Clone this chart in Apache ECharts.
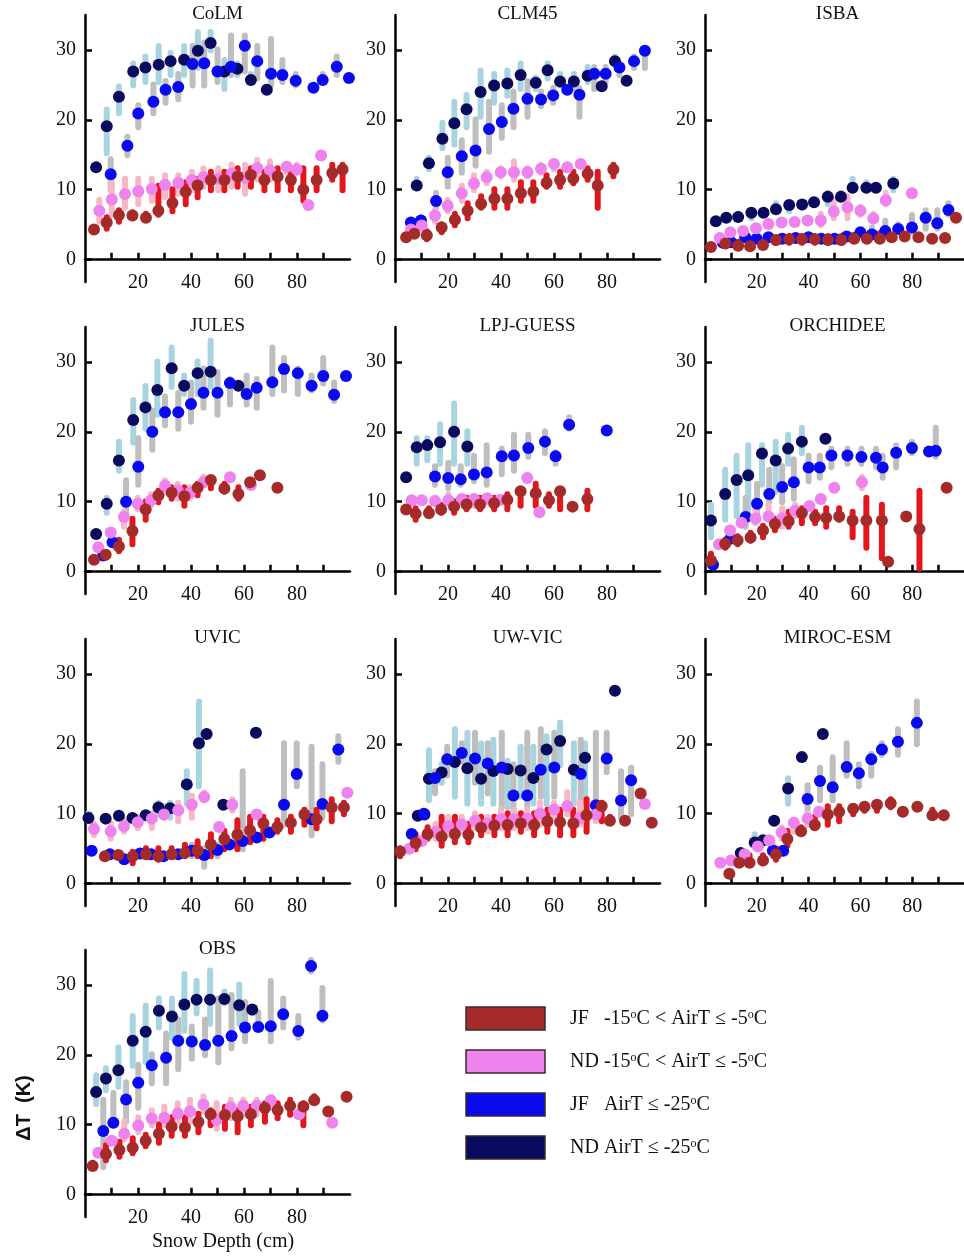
<!DOCTYPE html>
<html>
<head>
<meta charset="utf-8">
<script src="https://cdn.jsdelivr.net/npm/echarts@6/dist/echarts.min.js"></script>
<style>
  html, body { margin: 0; padding: 0; background: #fff; }
  #main { width: 964px; height: 1256px; }
</style>
</head>
<body>
<div id="main"></div>
<script>
// ---- data: [snow depth, dT, low, high] (low/high only when a bar is visible) ----
var panelNames = ['CoLM', 'CLM45', 'ISBA', 'JULES', 'LPJ-GUESS', 'ORCHIDEE', 'UVIC', 'UW-VIC', 'MIROC-ESM', 'OBS'];
var yTicks = [0, 10, 20, 30];
var xTicks = [10, 20, 30, 40, 50, 60, 70, 80, 90];
var xLabels = [20, 40, 60, 80];

var colmJfWarm = [[3.4,4.3],[8.2,5.3,4,6.5],[12.8,6.4,5,7.5],[17.9,6.3,5.5,7.2],[23,6.0,5.5,7],[27.7,7.0,6,11],[33,8.1,6.5,10.5],[38,9.7,7.5,11.5],[42.5,10.6,8.5,12],[47.5,11.4,9.5,13],[52.6,11.4,9.5,13],[57.6,11.9,10,13.5],[62.6,12.1,10,13.5],[67.7,11.4,9.5,13],[72.7,11.9,9.5,13.5],[77.7,11.4,9.5,13.5],[82.4,10,8,13.5],[87.4,11.4,9.5,13.5],[93.3,12.4,11,14],[97.2,12.9,9.5,14]];
var colmNdWarm = [[5.4,7.0,5,9],[10.1,8.6,6,12],[15.1,9.4,7,12],[20.1,9.8,7.5,12],[25.2,10.1,8,12],[30.2,10.7,8.5,12.5],[35.2,11,9,12.5],[40.3,11.4,9.5,13],[44.7,11.8,10,13.5],[50.3,11.6,9.5,13.5],[55.3,12.3,10,14],[60.4,11.7,9,14],[65,13.1,11,14.7],[69.8,12.8,11,14.5],[76.1,13.3,12,14],[79.9,12.9,12,14],[84.3,7.8],[89.1,14.9]];
var colmJfCold = [[9.7,12.2,9.5,14.8],[16,16.3,14.5,18],[20.1,20.9,18.5,22.5],[25.8,22.6,20.5,25.5],[30.4,24.3,22,26],[35.2,24.7,22.5,27],[40.6,28,24.5,31],[45,28.1,24.5,31.5],[50,26.9,25,30.5],[55.1,27.6,26,32.5],[60.3,30.6,26.5,32.5],[65,28.4,25.5,31],[70.2,26.6,24.5,32],[74.5,26.4,25,29],[79.5,25.6,24.5,27],[86.2,24.6,24,25.5],[89.7,25.7,25,27],[95,27.6,26,29.5],[99.6,26,25.5,26.5]];
var colmNdCold = [[4.2,13.2],[8.2,19.1,14.8,21.9],[12.8,23.3,20.5,25.2],[18.2,26.9,24.5,28.5],[22.8,27.5,25,29.5],[27.8,27.9,25,31],[32.3,28.4,26,30],[37.4,28.6,26,31],[42.6,29.9,27,33],[47.4,31,29.5,33],[52.6,26.9,24,29],[57.5,27.3,26,28.5],[62.6,25.7,25,27],[68.6,24.3]];

var clmJfWarm = [[4.2,3.2],[7.3,3.7],[12,3.5,2.5,4.5],[17.6,4.6,3.5,5.5],[22.6,5.7,4.5,7],[27.4,7.0,5.5,8.5],[32.5,8,7,9.5],[37.5,8.7,7,10.5],[42.4,8.7,7,10.5],[47.5,9.5,8,11.5],[52.2,9.7,8,11.5],[57.2,11,10,12.5],[62.3,11.4,10,13],[67.3,11.6,10.5,13],[72.7,12.3,11,13.5],[76.5,10.6,7,13],[82.4,12.9,11.5,14]];
var clmNdWarm = [[6,4.3,3.5,5.5],[10.1,4.9,4,5.5],[15.1,6.3,5,7.5],[19.9,7.7,6.5,9],[25.2,9.5,8,11],[29.8,10.9,9.5,12.5],[34.6,11.8,10.5,13],[39.9,12.5,11.5,13.5],[44.9,12.5,11,14.5],[50,12.5,11.5,13.5],[55.1,13,12,14],[60,13.7,12.5,14.5],[65,13.2,12.5,14],[70.1,13.7]];
var clmJfCold = [[6,5.3,4.5,6],[9.8,5.6,4.5,6.5],[15.5,8.4,7,10],[19.9,12.5,10,15],[25.2,14.8,12,17.5],[30.4,15.6,13,20.5],[35.5,18.7,15,23],[40.3,19.7,17,22.5],[44.7,21.6,18.5,24.5],[50,23,20,26],[55.1,22.9,21.5,24.5],[59.7,23.5,22,25],[65,24.3,23.5,25],[69.6,23.6,20,25],[75.2,26.6,24,28],[79.5,26.6,25,28],[84.7,27.5,26,28.5],[90.2,28.4,27,29.5],[94.3,29.9,27,30.5]];
var clmNdCold = [[8.2,10.6,10,12],[12.8,13.8,12.5,15],[17.9,17.3,15.5,20],[22.4,19.5,16,23],[27,21.5,18.5,24],[32.3,24,20,27.5],[37.4,24.9,22,27],[42.4,25.2,23,27.5],[47.4,26.4,24,28.5],[53.1,25.3,24,26.5],[57.6,27.1,25.5,28.5],[62.3,25.5,24.5,27],[67.5,25.5,24,27],[72.7,26.3,25,28],[78,24.8],[83,28.4,27.5,29.5],[87.4,25.6,25,26.5]];

var isbaJfWarm = [[2.3,1.8],[7.9,2.3,1.5,3],[12.8,2.0,1.5,3],[17.4,1.9,1.5,3],[22.4,2.1,1.5,3],[27.4,2.8,2,3.5],[32.5,2.9,2,3.8],[37.4,2.9,2,3.8],[42.4,2.9,2,3.8],[47.5,2.8,2,3.8],[52.6,2.8,2,3.8],[57.6,3.0,2.2,4],[62.5,3.0,2.2,4],[67.5,3.0,2.2,4.2],[72.1,3.2],[77.1,3.3],[82.4,3.2],[87.7,3.0],[92.7,3.1],[96.9,6.0]];
var isbaNdWarm = [[5.7,3.1],[9.8,3.9],[14.7,4.1],[19.7,4.5],[24.5,5.1],[29.6,5.3],[34.6,5.4],[39.6,5.6],[44.7,5.6,4.5,7],[49.7,6.9,5.5,9],[55,7.5,5.5,9.5],[60,7.0,6,8],[65,5.9,5,7],[69.8,8.5,7.5,10],[79.9,9.5]];
var isbaJfCold = [[6.9,2.4],[10.1,2.5],[15.5,3.2],[19.9,3.0],[24.5,3.2],[29.8,3.0],[35,3.1],[40,3.2],[44.9,3.0],[50,3.0],[54.7,3.3],[60,3.9],[64.5,3.6,3,5],[69.6,4.1,3,6],[74.6,4.4,3.5,5.5],[79.9,4.6,3.5,6.8],[85.2,6.0,4,7.5],[89.7,5.2,4,7.5],[94,7.1,6,8.5]];
var isbaNdCold = [[4.2,5.5],[8.2,6.0],[12.8,6.1,5.5,7],[17.9,6.7,5.5,7.5],[22.6,6.7,6,7.3],[27.4,7.2,6.5,8.5],[32.5,7.8,6.5,8.5],[37.5,7.9,7,8.5],[42.1,8.2,7.5,9],[47.4,9,7.5,10],[52.5,9,8.5,10],[57,10.3,9.5,12],[62.3,10.3,9.5,11.5],[66,10.3],[72.7,10.9,9.5,12]];

var julesJfWarm = [[3.4,1.7],[7.8,2.4],[12.8,3.6,2.5,5],[17.9,5.8,3.5,8],[22.9,8.9,7,10.5],[27.7,10.9,9.5,12],[32.7,11.3,10,12.5],[37.5,10.8,9,12.5],[42.5,12,10.5,13],[47.5,13.1,11.5,13.5],[52.6,11.9,11,13],[57.9,11.1,10,12.5],[62.3,12.8,12,13.5],[66,13.8,13,14.5],[72.6,12]];
var julesNdWarm = [[5,3.5],[9.7,5.6],[14.7,7.8,6,9],[19.9,9.7,8.5,11],[24.9,10.2,9,11.5],[30.2,12.3,11,13.5],[35,11.6,10,13],[39.6,11.3,10,12.5],[44.7,12.8,12,14],[54.7,13.5],[62.6,12.4]];
var julesJfCold = [[6.9,2.3],[10.4,4.2],[15.5,10,8,13.5],[20.1,15,12,19.5],[25.4,20,17,23.5],[30.2,22.8,20.5,25.5],[35.2,22.8,20,26],[40,24,21,27.5],[44.7,25.6,23,29.5],[50,25.6,22,29],[54.7,27,23.5,28],[61,25.4,23.5,28.5],[64.8,26.3,23,28],[70.7,27.1,25,32.5],[75.1,29,25.5,31],[80.3,28.4,25,29.5],[85.5,26.6,25.5,28.5],[89.9,28,26.5,31],[94,25.3,24,27.5],[98.5,28]];
var julesNdCold = [[4.2,5.4],[8.2,9.7,8,11],[12.8,15.9,14,19],[18.2,21.7,18,25],[22.8,23.5,20,27],[27.3,26,22,30.5],[32.7,29.1,26,32.5],[37.4,26.6,25,28.5],[42.5,28.4,25,30.5],[47.4,28.6,26,33.5],[57.9,26.6]];

var lpjJfWarm = [[4.2,8.9],[7.8,8.3,7,9.5],[12.8,8.4,7.5,9.5],[17.4,8.9,8,10],[22.3,9.3,8,10.5],[27,9.6,8.5,11],[32.1,9.6,8.5,11],[37.4,9.8,8.5,11],[42.4,10.3,8.5,11.5],[47.4,11.5,9,12],[53.1,11.2,9,13],[58.1,10.2,9,11.5],[62.3,11.5,8.5,12],[67,9.3],[72.6,10.4,8.5,12]];
var lpjNdWarm = [[6.3,10.2,9.5,11],[10.1,10.2,9.5,11],[15.1,10.1,9.5,11],[20.1,10.2,9.5,11.5],[25.2,10.4,9.5,11],[29.8,10.4,9,11],[34.8,10.5,9.5,11],[39.9,10.3,9.5,11],[49.9,13.4],[54.5,8.5]];
var lpjJfCold = [[15.1,13.6,12,15.5],[20.1,13.4,11.5,16],[24.8,13.2,12,15.5],[29.8,13.9,12.5,17],[34.6,14.2,12,18.5],[40.3,16.5,13.5,18],[44.9,16.6,14,20],[50.3,17.7,16,20],[56.6,18.6,16.5,20.5],[60.6,16.5,15,17.5],[65.7,21,20,22.5],[79.9,20.2]];
var lpjNdCold = [[4.2,13.5],[8.2,17.8,15,19.5],[12.2,18.1,15.5,19.5],[17,18.5,15,21.5],[22.3,20,15,24.5],[27.3,17.9,15,20.5]];

var orcJfWarm = [[2.3,1.6,1.5,3],[7.8,4.0,3,5],[12.6,4.5,3.5,5.5],[17.6,4.9,4,6],[22.4,5.9,4.5,7],[27,6.8,5.5,8],[32.3,7.2,6,9],[37.4,8.4,6.5,9.5],[42.5,7.8,6.5,9],[46.8,7.7,6,9.5],[51.8,7.9,7,9.5],[57,7.3,4.5,9],[62.3,7.3,3,11],[68.3,7.3,1.5,10],[70.7,1.4],[77.7,7.9],[82.8,6.1,0,12],[93.3,12]];
var orcNdWarm = [[5.4,3.9],[9.7,5.9],[14.1,7],[19.5,7.6,6.5,10],[24.5,7.9,7,10],[29.8,7.6,6,9.5],[34.8,8.7,7.5,10],[40.3,9.4],[44.7,10.4],[49.9,12.0],[60.6,12.8,11.5,14]];
var orcJfCold = [[3.1,1.0],[9.8,4.7],[15.7,7.8,6,11],[20.1,9.7,7,13],[24.8,11.1,9.5,15],[29.8,12.1,9.5,15.5],[34.3,12.8,10,16.5],[40,14.9,12.5,17],[44.3,14.9,13,17],[48.8,16.6,14.5,18],[55,16.6,15,18],[60.4,16.4,15,18],[66,16.3,14.5,18],[68.6,14.9,13,17],[73.8,17,14.5,18.5],[79.9,17.7,16.5,19],[86.5,17.2],[89.1,17.3,16,21]];
var orcNdCold = [[2.3,7.3,4.5,10],[7.8,11.1,7,15],[12.2,13.1,7.5,17],[16.7,13.8,8,18.5],[22,16.9,12,18.5],[27.3,15.9,11,19],[32.1,17.6,15,20],[37.4,18.6,16.5,21],[46.5,19]];

var uvicJfWarm = [[7.5,3.9],[12.6,4.1],[18,3.9,2.5,5],[23,4.2,3.5,5.5],[27.7,3.9,3,5.5],[32.7,4.2,3.5,5.5],[37.7,4.4,3.5,6],[42.5,4.7,3.5,6.5],[47.5,5.6,3.5,7.5],[52.6,6.4,4.5,8],[57.5,7.0,4.5,9.5],[62.3,7.6,5.5,10],[67.3,8.6,6,10],[72.6,8.1,7,9.5],[77.7,8.7,7,10],[82.8,9.9,8,11],[87.4,9.2,7.5,11],[93.1,10.9,8.5,12.5],[97.7,10.9,9.5,12]];
var uvicNdWarm = [[3.4,7.8,6.5,9],[9.7,7.5,6,9],[14.7,8.2,7,9.5],[19.9,8.8,7.5,10],[25.2,9.3,7.5,10.5],[29.8,9.9,9,11.5],[35.2,10.5,8.5,12],[40.3,11.3,9,13],[45,12.4,11.5,13.5],[50.6,8.1],[55.6,11.3,10,12.5],[64.8,9.9],[99,13]];
var uvicJfCold = [[2.5,4.7],[9.4,4.2,3.5,5],[14.8,3.5],[20.8,4.3,3.5,5],[24.9,4.2],[29.6,3.9],[35.2,4.2],[40.3,4.7,3.5,6],[45,4.1,2,5.5],[50,4.8,3.5,6],[54.5,5.6],[59.5,6.1,4.5,16.5],[64.8,6.6],[69.6,7.3],[75.1,11.3,8,20.5],[79.9,15.7,13.5,20.5],[85.5,9.2,6.5,20],[89.6,11.4,9,17.5],[95.6,19.2,17,21.5]];
var uvicNdCold = [[1.3,9.4,8.5,10.5],[7.8,9.3],[12.8,9.7],[17.9,9.4],[22.9,9.8],[27.7,10.9,9.5,12],[32.1,10.8,9,12],[38.4,14.2,11,16.5],[43,20.1,13.5,26.5],[45.9,21.4],[52.2,11.3],[64.5,21.6]];

var uwJfWarm = [[1.9,4.6,3.5,5.5],[7.8,5.8,4.5,7.5],[12.3,7.1,6,8.5],[17.6,6.7,5,10],[22.6,7.1,5.5,10],[27.7,7.0,5.5,9],[32.5,8,6.5,10],[37.5,8.3,6.5,10],[42.5,8.4,6.5,10.5],[47.5,8.6,7,10.5],[52.5,8.4,6.5,10.5],[57.5,8.9,7,11],[62.3,8.8,6.5,11],[67.3,8.6,6.5,11],[72.3,9.8,7,12.5],[78,11.1,8.5,12],[81.1,9,8.5,10],[86.8,9],[92.7,12.9],[96.9,8.7]];
var uwNdWarm = [[5.4,5],[10.1,6.1],[15.3,7.4,6,9],[20.1,8.2,6.5,10],[25.2,8.5,7,10],[30.2,9,7.5,10.5],[35,8.6,7,10],[40,9.2,7.5,11],[44.9,9.2,7.5,11],[49.9,9.3,7.5,11],[54.7,10,8,12],[60,10.6,9,12],[65,11.1,9.5,13.5],[69.8,9.4,8,12],[75.8,9.9,8.5,12],[94.3,11.4]];
var uwJfCold = [[6.3,7.1],[10.9,10],[15.1,15.1,12.5,16.5],[19.7,17.8,15,20],[25.2,18.7,17,20.5],[30.2,17.9,14,22],[35,17.2,12.5,20.5],[40.3,16.6,10.5,22],[44.7,12.6,10,17.5],[49.9,12.6,10.5,22],[55,16.3,12,22.5],[60.1,16.6,12,22],[70.1,15.7,11,21],[75.8,11.2,10,22],[79.9,17.9,15.5,22],[85.3,11.9,9,16.5],[89.1,14.8,9.5,17]];
var uwNdCold = [[8.6,9.7],[11.1,9.9],[12.8,15,11.5,19.5],[17.6,15.9,14,17.5],[22.6,17.4,12,22.5],[27.3,16.5,11,22],[32.5,15,11,20.5],[37.1,16.1,11,21],[42.5,16.4,10.5,18],[47.4,16.2,12,20],[52.2,15.1,11,20],[57.2,19.2,11,21.5],[62.3,20.4,16.5,23.5],[67.5,16.3,11,20.5],[71.7,18,12,20.5],[83,27.6]];

var mirocJfWarm = [[9.4,1.4],[13.2,3.0],[17.2,3.0,2.5,4.5],[22.4,3.3,2.5,4.5],[27.4,4.2,3,5.5],[31.8,6.4,5,8],[37.1,7.5,7,8.5],[42.4,8.4,7.5,10],[47.4,9.9,8,11.5],[51.8,10.3,8.5,11.5],[57.2,10.7,9.5,11.5],[61.6,11,10,11.5],[66.4,11.3,10,12],[71.7,11.5,10.5,12.5],[76.4,10.3,9.5,11],[82,11],[87.8,9.8,9.5,11],[92.2,9.8]];
var mirocNdWarm = [[5.9,3.0],[10.1,3.3],[15.3,4.2],[20.4,5.3],[24.8,6.2],[29.6,7.3,6,8.5],[34.3,8.7,7,9.5],[39.6,9.3,8,10.5],[44,10.3]];
var mirocJfCold = [[26.2,4.7,3.5,6],[30.2,4.7,4,5.5],[39.6,12.1,9.5,14.5],[44.4,14.7,11.5,17],[49.3,13.8,11.5,18.5],[54.7,16.7,15,20.5],[59.4,15.8,13.5,17.5],[64.2,17.8,15,19],[68.3,19.2,18,20.5],[74.5,20.3,18,22.5],[81.8,23,19.5,26.5]];
var mirocNdCold = [[13.8,4.4],[19.2,5.9,5,7.5],[22.4,6.2],[26.7,9.0],[32.1,13.6,11,15.5],[37.4,18.1],[45.5,21.4]];

var obsJfWarm = [[2.9,4.1,3.5,5],[7.9,5.8,4.5,7.5],[13,6.4,5,8],[18,6.7,5.5,8.5],[22.9,7.7,6.5,9],[27.9,8.7,7,10.5],[32.7,9.7,8,11.5],[37.7,9.6,8,11.5],[42.8,10.4,8.5,12],[47.4,11.5,9.5,12.5],[52.8,11.4,9,13],[57.6,11.2,8.5,12.5],[62.6,11.5,9.5,13],[67.9,12.4,10,13.5],[72.7,12.1,10.5,13.5],[77.4,12.7,11,14],[82.4,12.6,9.5,13.5],[86.5,13.5,13,14.5],[91.8,11.9],[98.7,14]];
var obsNdWarm = [[5,6.0],[10.1,7.7],[14.8,8.7,7.5,11],[20.1,9.9,8.5,11.5],[25.2,10.9,9.5,12.5],[29.9,11,9.5,13],[35,11.6,10,13.5],[39.6,11.9,10,14],[44.7,12.9,11.5,14.5],[49.7,10.7,9,13.5],[55,12.5,10.5,14],[59.7,12.7,11,14],[64.8,12.7,11,14],[70.1,13.5,12,14],[80.8,11.5],[93.3,10.3]];
var obsJfCold = [[6.9,9.1,3.5,14],[10.7,10.3,9.5,15],[15.5,13.6,10,16.5],[20.1,16,12,19],[25.2,18.5,15.5,20.5],[30.6,19.6,15.5,23.5],[35.2,22,17.5,25.5],[40.3,21.9,19,24.5],[45.3,21.4,19.5,25.5],[50.3,22,18.5,28.5],[55.3,22.7,20.5,29],[60.4,23.9,21.5,28],[65.4,24,23.5,26.5],[70.1,24.1,21.5,31],[74.8,25.8,23.5,28.5],[80.5,23.4,22,26],[85.3,32.7,31.5,34],[89.6,25.6,24.5,30]];
var obsNdCold = [[4.2,14.7,12.5,17.5],[7.9,16.6,14.5,18.5],[12.6,17.8,15,21.5],[18,22,18,26],[22.9,23.3,18.5,27.5],[27.9,26.3,23.5,28.5],[32.8,25.5,22,28.5],[37.5,27.2,23,32],[42.1,27.9,25.5,31],[47.2,27.9,24,32.5],[52.6,28,27,29.5],[58.2,27.1,24,30.5],[63.1,26.5,25.5,27]];

// order per panel: JF warm, ND warm, JF cold, ND cold
var panelData = [
    [colmJfWarm, colmNdWarm, colmJfCold, colmNdCold],
    [clmJfWarm, clmNdWarm, clmJfCold, clmNdCold],
    [isbaJfWarm, isbaNdWarm, isbaJfCold, isbaNdCold],
    [julesJfWarm, julesNdWarm, julesJfCold, julesNdCold],
    [lpjJfWarm, lpjNdWarm, lpjJfCold, lpjNdCold],
    [orcJfWarm, orcNdWarm, orcJfCold, orcNdCold],
    [uvicJfWarm, uvicNdWarm, uvicJfCold, uvicNdCold],
    [uwJfWarm, uwNdWarm, uwJfCold, uwNdCold],
    [mirocJfWarm, mirocNdWarm, mirocJfCold, mirocNdCold],
    [obsJfWarm, obsNdWarm, obsJfCold, obsNdCold]
];
var groupNames = ['JF warm', 'ND warm', 'JF cold', 'ND cold'];
var legendTexts = [
    'JF   -15{s|o}C < AirT ≤ -5{s|o}C',
    'ND -15{s|o}C < AirT ≤ -5{s|o}C',
    'JF   AirT ≤ -25{s|o}C',
    'ND AirT ≤ -25{s|o}C'
];

// styles
var dotColors = ['#A52A2A', '#EE82EE', '#0A0AEE', '#0A0A5E'];
var barColors = ['#E2161C', '#F6B7C6', '#BEBEBE', '#A8D4E0'];
var barOrder = [3, 2, 1, 0];   // light blue, grey, pink, red
var dotOrder = [3, 2, 1, 0];
var colX = [85, 395, 705];
var rowTop = [15, 327, 639, 950];
var gridW = 265, gridH = 267;
var serif = "'Liberation Serif', 'DejaVu Serif', serif";

var chart = echarts.init(document.getElementById('main'));

var grids = [], xAxes = [], yAxes = [], series = [], graphics = [];

panelNames.forEach(function (name, i) {
    var col = i % 3, row = Math.floor(i / 3);
    grids.push({left: colX[col], top: rowTop[row], width: gridW, height: gridH});
    xAxes.push({
        type: 'value', gridIndex: i, min: 0, max: 100,
        axisLine: {onZero: true, lineStyle: {color: '#000', width: 2.5}},
        axisTick: {inside: true, length: 7, customValues: xTicks, lineStyle: {color: '#000', width: 2.5}},
        axisLabel: {customValues: xLabels, color: '#111', fontFamily: serif, fontSize: 20, margin: -9},
        splitLine: {show: false}
    });
    yAxes.push({
        type: 'value', gridIndex: i, min: -3.2, max: 35,
        axisLine: {show: true, lineStyle: {color: '#000', width: 2.5}},
        axisTick: {inside: true, length: 7, customValues: yTicks, lineStyle: {color: '#000', width: 2.5}},
        axisLabel: {customValues: yTicks, color: '#111', fontFamily: serif, fontSize: 20, margin: 9},
        splitLine: {show: false}
    });
    graphics.push({
        type: 'text', x: colX[col] + gridW / 2, y: rowTop[row] - 1,
        style: {text: name, textAlign: 'center', textVerticalAlign: 'middle',
            font: '19px ' + serif, fill: '#111'}
    });

    var sets = panelData[i];
    barOrder.forEach(function (g) {
        series.push({
            type: 'custom', name: groupNames[g], xAxisIndex: i, yAxisIndex: i, z: 2,
            data: sets[g].filter(function (d) { return d.length === 4; }),
            renderItem: function (params, api) {
                var top = api.coord([api.value(0), api.value(3)]);
                var bot = api.coord([api.value(0), api.value(2)]);
                return {
                    type: 'rect',
                    shape: {x: top[0] - 3, y: top[1], width: 6, height: bot[1] - top[1], r: 3},
                    style: {fill: barColors[g]}
                };
            },
            silent: true
        });
    });
    dotOrder.forEach(function (g) {
        series.push({
            type: 'scatter', name: groupNames[g], xAxisIndex: i, yAxisIndex: i, z: 3,
            data: sets[g].map(function (d) { return [d[0], d[1]]; }),
            symbolSize: 12,
            itemStyle: {color: dotColors[g], opacity: 1},
            silent: true
        });
    });
});

// legend boxes
var legTop = [1007, 1050, 1093, 1136];
legTop.forEach(function (y, k) {
    graphics.push({
        type: 'rect', shape: {x: 466, y: y, width: 79, height: 23},
        style: {fill: dotColors[k], stroke: '#3a2a2a', lineWidth: 1.5}
    });
    graphics.push({
        type: 'text', x: 570, y: y + 12,
        style: {
            text: legendTexts[k], textVerticalAlign: 'middle',
            font: '20px ' + serif, fill: '#111',
            rich: {s: {fontSize: 12, fontFamily: serif, verticalAlign: 'top', padding: [0, 0, 8, 0]}}
        }
    });
});

graphics.push({
    type: 'text', x: 24, y: 1108, rotation: Math.PI / 2,
    style: {text: 'ΔT  (K)', textAlign: 'center', textVerticalAlign: 'middle',
        font: "bold 20px 'Liberation Sans', Arial, sans-serif", fill: '#111'}
});
graphics.push({
    type: 'text', x: 223, y: 1242,
    style: {text: 'Snow Depth (cm)', textAlign: 'center', textVerticalAlign: 'middle',
        font: '20px ' + serif, fill: '#111'}
});

chart.setOption({
    animation: false,
    backgroundColor: '#fff',
    grid: grids,
    xAxis: xAxes,
    yAxis: yAxes,
    series: series,
    graphic: graphics
});
</script>
</body>
</html>
